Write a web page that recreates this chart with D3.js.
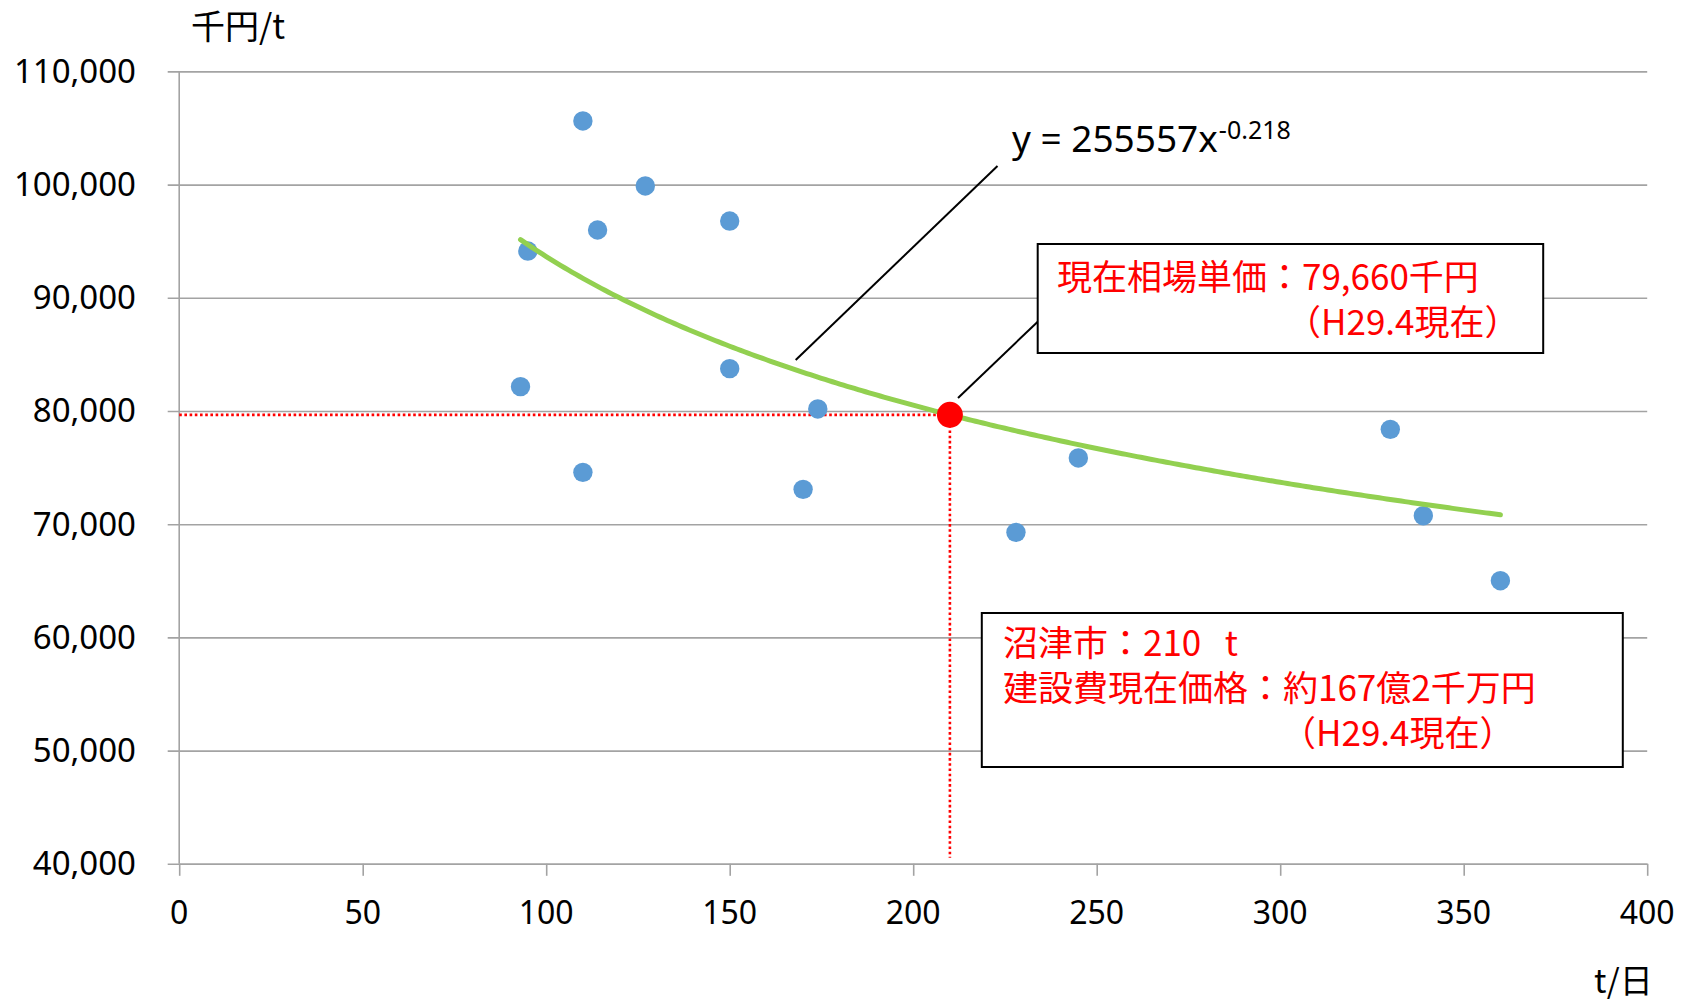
<!DOCTYPE html>
<html>
<head>
<meta charset="utf-8">
<script src="https://cdn.jsdelivr.net/npm/d3@7"></script>
<style>
  html, body { margin: 0; padding: 0; background: #fff; }
  svg { display: block; }
  text { white-space: pre; }
</style>
</head>
<body>
<svg id="chart" width="1686" height="1004"></svg>
<script>
// ---------------- data ----------------
const xTickValues = [0, 50, 100, 150, 200, 250, 300, 350, 400];
const yTickValues = [40000, 50000, 60000, 70000, 80000, 90000, 100000, 110000];

// plants: capacity (t/day) and unit construction price (thousand yen / t)
const plantCapacity = [93, 95, 110, 110, 114, 127, 150, 150, 170, 174, 228, 245, 330, 339, 360];
const plantUnitPrice = [82150, 94130, 105620, 74580, 95990, 99880, 96780, 83740, 73080, 80180, 69280, 75850, 78380, 70750, 65010];

// power trendline shown in the chart: y = 255557 x^-0.218 over the data range
const trendCoef = 255557;
const trendExp = -0.218;
const trendRange = [93, 360];

// Numazu city point
const cityCapacity = [210];
const cityUnitPrice = [79660];

const yAxisTitle = "千円/t";
const xAxisTitle = "t/日";
const equationMain = "y = 255557x";
const equationSup = "-0.218";
const box1Lines = ["現在相場単価：79,660千円", "（H29.4現在）"];
const box2Lines = ["沼津市：210   t", "建設費現在価格：約167億2千万円", "（H29.4現在）"];

// ---------------- drawing ----------------
const numFont = "'Noto Sans', 'DejaVu Sans', sans-serif";
const jpFont = "'Noto Sans CJK JP', 'Noto Sans', sans-serif";

const svg = d3.select("#chart");
svg.append("rect").attr("width", 1686).attr("height", 1004).attr("fill", "#fff");

const x = d3.scaleLinear().domain([0, 400]).range([179.2, 1647.2]);
const y = d3.scaleLinear().domain([40000, 110000]).range([863.8, 71.4]);

const gridColor = "#a3a3a3";

// horizontal gridlines (with small left ticks)
svg.append("g")
  .attr("transform", `translate(${x(0)},0)`)
  .call(d3.axisLeft(y).tickValues(yTickValues)
        .tickSize(-(x(400) - x(0))).tickSizeOuter(0).tickFormat(""))
  .call(g => g.select(".domain").remove())
  .call(g => g.selectAll(".tick line")
        .attr("stroke", gridColor).attr("stroke-width", 1.6)
        .attr("x1", -11.5));

// y axis line
svg.append("line")
  .attr("x1", x(0)).attr("x2", x(0))
  .attr("y1", y(110000)).attr("y2", y(40000))
  .attr("stroke", gridColor).attr("stroke-width", 1.6);

// x axis
const xAxisG = svg.append("g")
  .attr("transform", `translate(0,${y(40000)})`)
  .call(d3.axisBottom(x).tickValues(xTickValues).tickSize(12).tickSizeOuter(0).tickFormat(""));
xAxisG.select(".domain").attr("stroke", gridColor).attr("stroke-width", 1.6);
xAxisG.selectAll(".tick line").attr("stroke", gridColor).attr("stroke-width", 1.6);

// tick labels
const fmt = d3.format(",");
svg.append("g").selectAll("text")
  .data(yTickValues).join("text")
  .attr("x", 136)
  .attr("y", d => y(d) + 11.4)
  .attr("text-anchor", "end")
  .attr("font-family", numFont)
  .attr("font-size", 33)
  .attr("fill", "#000")
  .text(d => fmt(d));

svg.append("g").selectAll("text")
  .data(xTickValues).join("text")
  .attr("x", d => x(d))
  .attr("y", 923.5)
  .attr("text-anchor", "middle")
  .attr("font-family", numFont)
  .attr("font-size", 32)
  .attr("fill", "#000")
  .text(d => d);

// axis titles
svg.append("text")
  .attr("x", 191).attr("y", 39)
  .attr("font-family", jpFont).attr("font-size", 34)
  .attr("fill", "#000").text(yAxisTitle);

svg.append("text")
  .attr("x", 1594).attr("y", 993)
  .attr("font-family", jpFont).attr("font-size", 33)
  .attr("fill", "#000").text(xAxisTitle);

// red dotted reference lines
const red = "#ff0000";
svg.append("line")
  .attr("x1", x(0)).attr("x2", x(cityCapacity[0]))
  .attr("y1", y(cityUnitPrice[0])).attr("y2", y(cityUnitPrice[0]))
  .attr("stroke", red).attr("stroke-width", 2.6).attr("stroke-dasharray", "2.6,2.6");
svg.append("line")
  .attr("x1", x(cityCapacity[0])).attr("x2", x(cityCapacity[0]))
  .attr("y1", y(cityUnitPrice[0])).attr("y2", y(40000) - 6)
  .attr("stroke", red).attr("stroke-width", 2.6).attr("stroke-dasharray", "2.6,2.6");

// scatter points
const pts = plantCapacity.map((c, i) => ({ c, p: plantUnitPrice[i] }));
svg.append("g").selectAll("circle")
  .data(pts).join("circle")
  .attr("cx", d => x(d.c))
  .attr("cy", d => y(d.p))
  .attr("r", 9.7)
  .attr("fill", "#5b9bd5");

// trendline from displayed equation
const trendXs = d3.range(trendRange[0], trendRange[1] + 0.5, 1);
const trendPts = trendXs.map(v => [v, trendCoef * Math.pow(v, trendExp)]);
svg.append("path")
  .datum(trendPts)
  .attr("d", d3.line().x(d => x(d[0])).y(d => y(d[1])))
  .attr("fill", "none")
  .attr("stroke", "#92d050")
  .attr("stroke-width", 5)
  .attr("stroke-linecap", "round");

// city point
svg.append("g").selectAll("circle")
  .data(cityCapacity.map((c, i) => ({ c, p: cityUnitPrice[i] })))
  .join("circle")
  .attr("cx", d => x(d.c))
  .attr("cy", d => y(d.p))
  .attr("r", 13)
  .attr("fill", red);

// equation label and leader
svg.append("line")
  .attr("x1", 997.5).attr("y1", 166).attr("x2", 795.7).attr("y2", 360)
  .attr("stroke", "#000").attr("stroke-width", 2);
const eq = svg.append("text")
  .attr("x", 1012).attr("y", 151.5)
  .attr("font-family", numFont).attr("font-size", 37).attr("fill", "#000");
eq.append("tspan").text(equationMain);
eq.append("tspan").attr("font-size", 25).attr("dy", -13).attr("dx", 1).text(equationSup);

// annotation box 1
svg.append("line")
  .attr("x1", 958).attr("y1", 398).attr("x2", 1037.7).attr("y2", 321.7)
  .attr("stroke", "#000").attr("stroke-width", 2);
svg.append("rect")
  .attr("x", 1037.7).attr("y", 244).attr("width", 505.5).attr("height", 109)
  .attr("fill", "#fff").attr("stroke", "#000").attr("stroke-width", 2);
svg.append("text").attr("x", 1057).attr("y", 289.5)
  .attr("font-family", jpFont).attr("font-size", 35).attr("fill", red)
  .text(box1Lines[0]);
svg.append("text").attr("x", 1286).attr("y", 334.5)
  .attr("font-family", jpFont).attr("font-size", 35).attr("fill", red)
  .text(box1Lines[1]);

// annotation box 2
svg.append("rect")
  .attr("x", 981.8).attr("y", 613).attr("width", 641).attr("height", 154)
  .attr("fill", "#fff").attr("stroke", "#000").attr("stroke-width", 2);
const b2x = [1003, 1003, 1281];
const b2y = [656, 701, 746];
box2Lines.forEach((t, i) => {
  svg.append("text").attr("x", b2x[i]).attr("y", b2y[i])
    .attr("font-family", jpFont).attr("font-size", 35).attr("fill", red)
    .text(t);
});
</script>
</body>
</html>
